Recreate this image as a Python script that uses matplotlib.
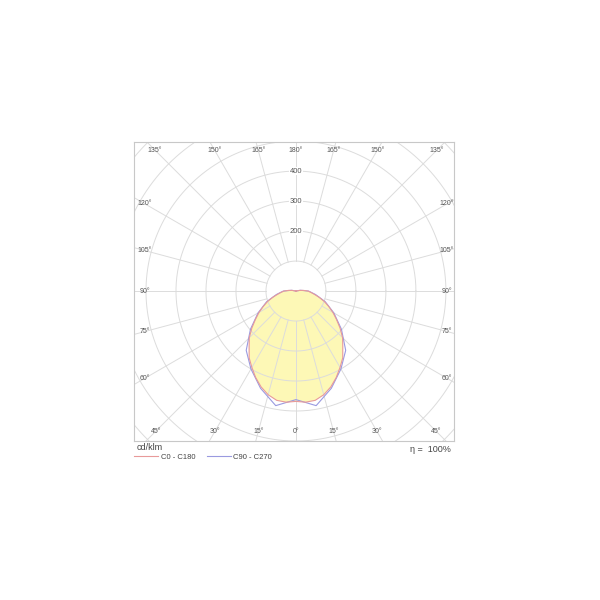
import numpy as np
import matplotlib
matplotlib.use("Agg")
import matplotlib.pyplot as plt

plt.rcParams["font.family"] = ["Liberation Sans", "DejaVu Sans"]

# luminous intensity (cd/klm) vs gamma angle (deg, 0 = straight down)
GAMMA_C0 = [0, 5, 10, 15, 20, 25, 30, 35, 40, 45, 50, 55, 60, 65, 70, 75, 80, 85, 90, 95, 100, 105]
I_C0 = [368, 372, 370, 358, 340, 318, 294, 272, 243, 220, 192, 165, 142, 120, 100, 80, 62, 50, 40, 25, 12, 0]
GAMMA_C90 = [0, 10, 20, 30, 40, 50, 60, 70, 80, 90, 100, 110]
I_C90 = [362, 388, 345, 300, 258, 198, 146, 104, 66, 42, 15, 0]

RINGS = [100, 200, 300, 400, 500, 600, 700]
RING_LABELS = [200, 300, 400]
SPOKES = list(range(0, 360, 15))
ANGLE_LABELS = list(range(0, 181, 15))

GRID = "#dcdcdc"
RED = "#e89a9a"
BLUE = "#9a9ae0"
FILL = "#fdf8b6"


def outline(gamma, inten):
    """Both halves of one C-plane pair as a closed x/y outline (left side = C180 / C270)."""
    g = np.radians(np.array(gamma, dtype=float))
    r = np.array(inten, dtype=float)
    xr, yr = r * np.sin(g), -r * np.cos(g)
    x = np.concatenate([-xr[::-1], xr[1:]])
    y = np.concatenate([yr[::-1], yr[1:]])
    return x, y


fig = plt.figure(figsize=(6, 6), dpi=100)
ax = fig.add_axes([134 / 600, 1 - 441 / 600, 320 / 600, 299 / 600])
ax.set_xlim(-540, 527)
ax.set_ylim(-500, 497)
ax.set_xticks([]); ax.set_yticks([])
for sp in ax.spines.values():
    sp.set_color("#c8c8c8"); sp.set_linewidth(0.8)

# filled light distribution (C0 plane)
x0, y0 = outline(GAMMA_C0, I_C0)
ax.fill(x0, y0, color=FILL, lw=0, zorder=1)

# polar grid: rings and 15 deg spokes starting at the first ring
t = np.linspace(0, 2 * np.pi, 400)
for rr in RINGS:
    ax.plot(rr * np.cos(t), rr * np.sin(t), color=GRID, lw=0.7, zorder=2)
for a in SPOKES:
    ar = np.radians(a)
    ax.plot([100 * np.sin(ar), 900 * np.sin(ar)], [-100 * np.cos(ar), -900 * np.cos(ar)],
            color=GRID, lw=0.7, zorder=2)

x1, y1 = outline(GAMMA_C90, I_C90)
ax.plot(x1, y1, color=BLUE, lw=0.8, zorder=3)
ax.plot(x0, y0, color=RED, lw=0.8, zorder=4)

for v in RING_LABELS:
    ax.text(0, v, str(v), fontsize=5.5, color="#555555", ha="center", va="center",
            zorder=5, bbox=dict(facecolor="white", edgecolor="none", pad=0.6))

# angle labels along the inside of the frame
hx, hy_top, hy_bot = 503, 470, 467
for g in ANGLE_LABELS:
    sides = [-1, 1] if 0 < g < 180 else [1]
    for s in sides:
        gr = np.radians(g)
        dx, dy = s * np.sin(gr), -np.cos(gr)
        lim_y = hy_top if dy > 0 else hy_bot
        k = min(hx / abs(dx) if abs(dx) > 1e-9 else 1e9,
                lim_y / abs(dy) if abs(dy) > 1e-9 else 1e9)
        ax.text(k * dx, k * dy, f"{g}°", fontsize=5, color="#555555",
                ha="center", va="center", zorder=5)

fig.text(137 / 600, 1 - 448 / 600, "cd/klm", fontsize=6.5, color="#444444",
         ha="left", va="center")
fig.text(451 / 600, 1 - 449 / 600, "η =  100%", fontsize=6.5, color="#444444",
         ha="right", va="center")

h_red, = ax.plot([], [], color=RED, lw=0.8)
h_blue, = ax.plot([], [], color=BLUE, lw=0.8)
fig.legend([h_red, h_blue], ["C0 - C180", "C90 - C270"], loc="center left",
           bbox_to_anchor=(134 / 600, 1 - 457 / 600), ncol=2, frameon=False,
           fontsize=5.5, handlelength=3.2, handletextpad=0.3, columnspacing=1.5,
           labelcolor="#444444", borderaxespad=0, borderpad=0)

fig.savefig("out.png", dpi=100, facecolor="white")
